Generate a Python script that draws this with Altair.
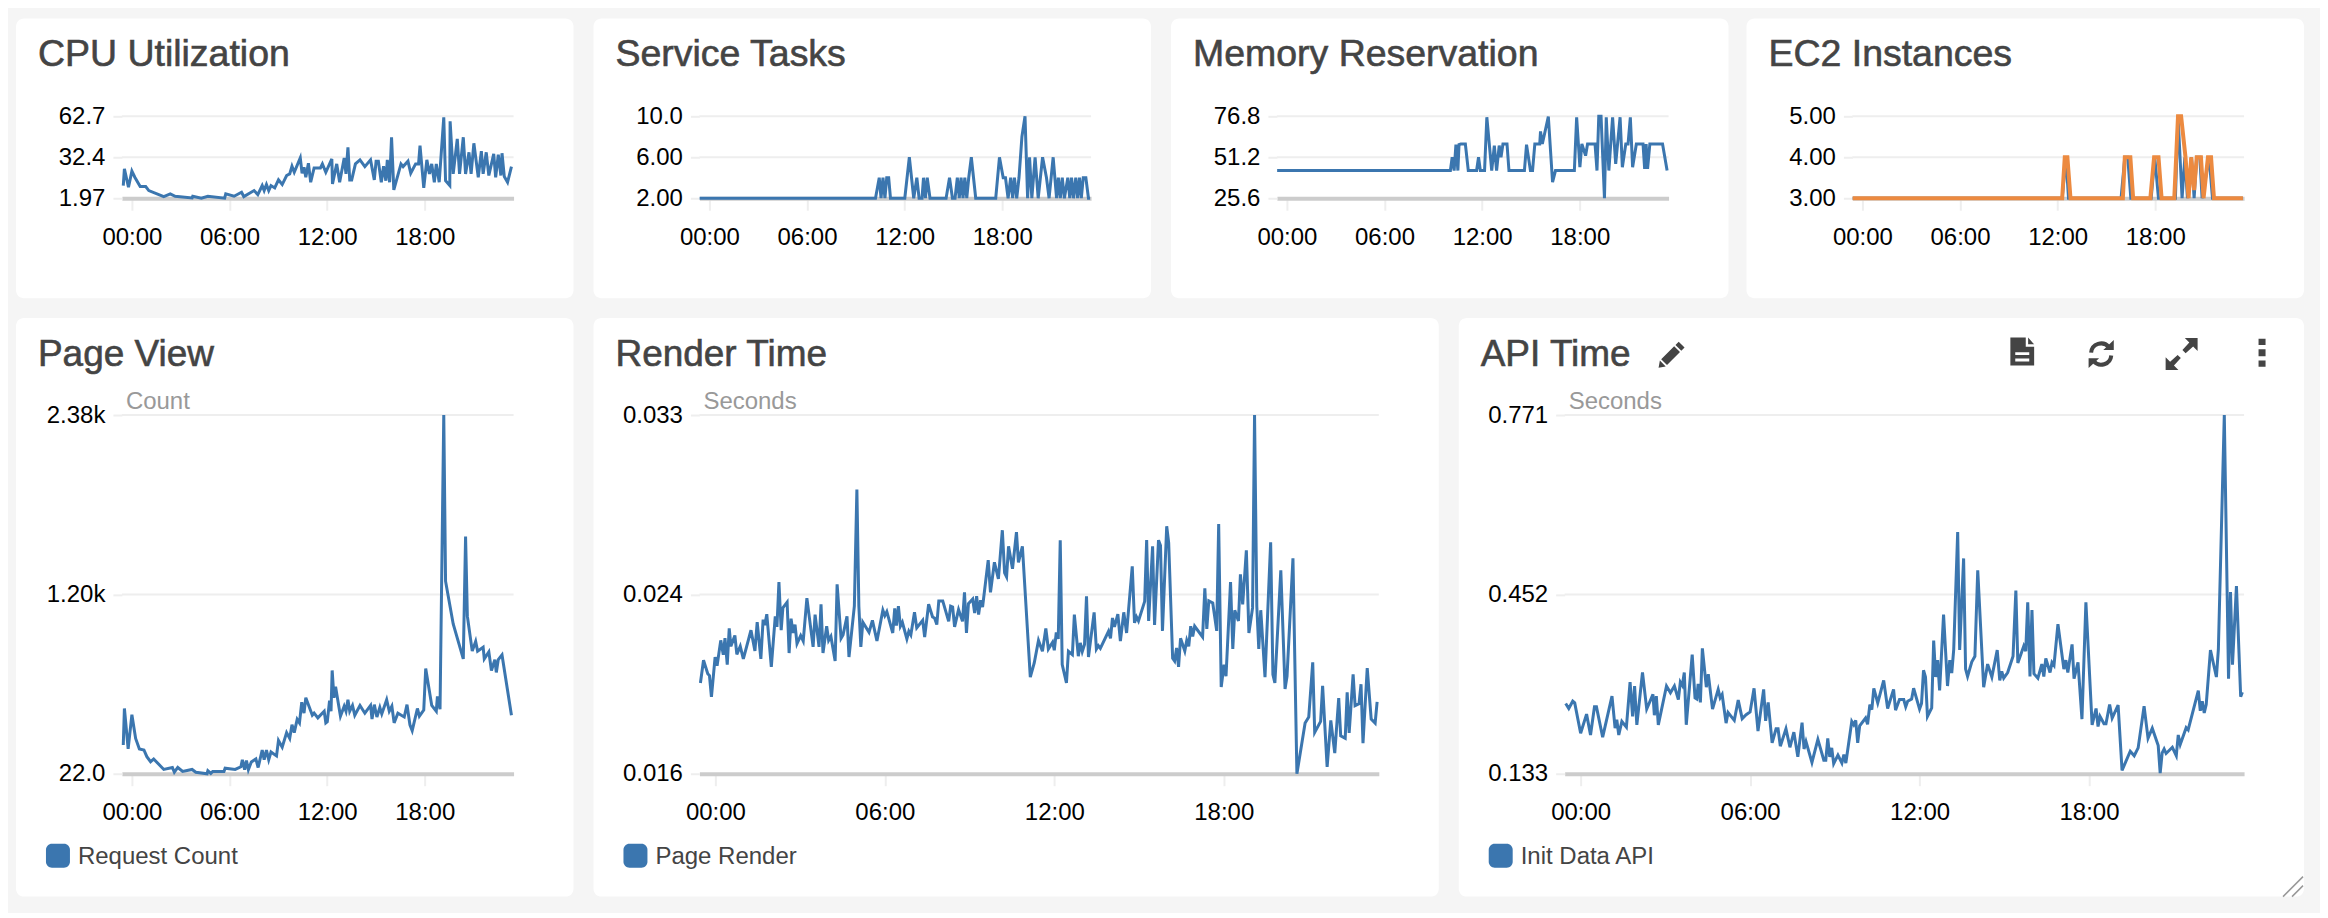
import altair as alt
import pandas as pd

BLUE = "#3b76af"
ORANGE = "#ec8a40"
FONT = "Liberation Sans"

# (hour of day, value) readings for every series
cpu = [(-.53,11.35),(-.46,23.7),(-.21,10.1),(0,22),(.18,17.5),(.51,10.6),(.85,10.6),(1.04,7.65),(1.96,3.2),(2.36,5.2),(2.66,3.45),(3.7,2.2),(3.74,3.45),(4.27,1.97),(4.67,3.45),(5.7,2.0),(5.77,5.2),(6.28,3.45),(6.74,6.4),(6.88,3.2),(7.51,7.65),(7.74,4.7),(8.01,11.35),(8.13,7.65),(8.27,12.1),(8.41,7.65),(8.55,11.35),(8.78,9.6),(9.01,15.55),(9.24,12.1),(9.51,18.8),(9.7,20),(9.84,25.7),(9.98,21.2),(10.35,31.85),(10.46,20.5),(10.58,25),(10.69,17.5),(10.85,27.9),(10.99,13.8),(11.2,24.4),(11.59,24.4),(11.71,27.4),(11.92,21.2),(12.29,31.1),(12.33,12.6),(12.59,27.4),(12.77,13.8),(13.05,31.85),(13.16,20),(13.28,39.75),(13.39,15.55),(13.51,15.55),(13.74,27.4),(14.02,30.4),(14.32,25.4),(14.67,30.4),(14.9,15.55),(15.01,29.4),(15.15,29.4),(15.33,13.8),(15.47,25.7),(15.61,15),(15.7,30.4),(15.84,13.8),(15.96,47.15),(16.1,8.15),(16.54,27.4),(16.67,25.4),(16.97,29.4),(17.14,20.5),(17.44,27.4),(17.62,27.4),(17.71,41),(17.94,9.6),(18.13,30.4),(18.29,20),(18.43,27.4),(18.59,13.8),(18.71,27.4),(18.89,13.8),(19.17,62),(19.28,15),(19.54,11.35),(19.56,59),(19.75,20),(20.0,45.9),(20.14,20),(20.37,47.15),(20.51,20),(20.72,36),(20.85,20),(21.02,42.7),(21.29,17.5),(21.48,36.8),(21.59,20),(21.78,36),(21.94,18.8),(22.24,34.8),(22.36,17.5),(22.52,34.3),(22.68,18.8),(22.75,35.3),(22.89,18),(23.09,13.8),(23.33,25.4)]

tasks = [(-.6,2),(10.21,2),(10.44,4),(10.55,2),(10.67,4),(10.79,2),(10.9,4),(11.02,4),(11.13,2),(12.01,2),(12.29,6),(12.56,2),(12.75,4),(12.89,2),(13.07,2),(13.16,4),(13.28,2),(13.39,4),(13.56,2),(14.55,2),(14.76,4),(14.94,2),(15.1,2),(15.24,4),(15.36,2),(15.47,4),(15.59,2),(15.7,4),(15.82,2),(15.94,4),(16.1,6),(16.37,2),(17.6,2),(17.83,6),(18.06,4),(18.2,4),(18.36,2),(18.52,4),(18.64,2),(18.75,4),(18.89,2),(19.03,4),(19.21,8),(19.4,10),(19.56,2),(19.68,6),(19.82,2),(20.02,6),(20.21,2),(20.48,6),(20.72,4),(20.88,2),(21.13,6),(21.34,2),(21.45,4),(21.57,2),(21.69,4),(21.82,2),(22.03,4),(22.15,2),(22.26,4),(22.38,2),(22.52,4),(22.63,2),(22.75,4),(22.86,2),(22.98,4),(23.14,4),(23.3,2),(23.4,2)]

memory = [(-.6,42.9),(10.05,42.9),(10.16,51.2),(10.28,42.9),(10.39,59.1),(10.51,42.9),(10.58,59.1),(10.69,59.5),(10.97,59.5),(11.15,42.9),(11.66,42.9),(11.78,51.2),(11.89,42.9),(12.15,42.9),(12.29,76.2),(12.59,42.9),(12.75,58.5),(12.89,42.9),(13.05,58.5),(13.16,51.2),(13.28,59.5),(13.53,59.5),(13.65,42.9),(14.6,42.9),(14.73,59.1),(14.97,42.9),(15.1,42.9),(15.24,59.5),(15.54,59.5),(15.59,67.4),(15.7,59.5),(16.07,76.6),(16.33,35.6),(16.51,42.9),(17.67,42.9),(17.81,76.2),(18.01,45),(18.13,59.5),(18.36,52.2),(18.48,59.5),(18.94,59.5),(19.06,42.9),(19.17,76.8),(19.31,76.8),(19.52,25.6),(19.63,76.2),(19.79,42.9),(20.02,76.2),(20.21,47),(20.48,76.2),(20.62,45),(20.83,59.5),(20.97,59.5),(21.11,76.2),(21.25,45),(21.48,59.5),(21.89,59.5),(21.99,43.9),(22.08,59.5),(22.17,43.9),(22.31,59.5),(23.09,59.5),(23.37,42.9)]

ec2_desired = [(-.6,3),(12.28,3),(12.51,4),(12.67,3),(15.9,3),(16.13,4),(16.31,4),(16.5,3),(17.75,3),(17.97,4),(18.2,3),(19.24,3),(19.4,5),(19.65,3),(19.82,4),(19.98,3),(20.23,4),(20.39,3),(20.55,4),(20.74,4),(20.88,3),(21.31,4),(21.52,3),(23.39,3)]
ec2_running = [(-.6,3),(12.28,3),(12.44,4),(12.6,4),(12.79,3),(16.01,3),(16.13,4),(16.47,4),(16.64,3),(17.7,3),(17.93,4),(18.2,4),(18.39,3),(19.17,3),(19.4,5),(19.59,5),(19.86,4),(20.05,3),(20.21,4),(20.39,3.2),(20.55,4),(20.81,4),(20.97,3),(21.24,4),(21.43,4),(21.61,3),(23.39,3)]

page_view = [(-.53,211),(-.46,451),(-.23,185),(0,410),(.23,254),(.46,185),(.74,178),(.92,134),(1.15,101),(1.34,119),(1.96,50),(2.49,63),(2.61,32),(2.82,63),(3.12,37),(3.7,50),(3.93,32),(4.62,22),(4.67,42),(4.85,24),(4.97,37),(5.66,37),(5.73,58),(6.35,50),(6.7,68),(6.79,114),(6.93,48),(7.04,109),(7.16,48),(7.34,99),(7.62,119),(7.76,63),(8.01,178),(8.13,114),(8.27,178),(8.41,114),(8.55,165),(8.89,139),(9.01,241),(9.24,196),(9.51,292),(9.7,254),(9.84,344),(9.98,292),(10.16,379),(10.3,356),(10.44,492),(10.58,420),(10.69,522),(11.09,407),(11.2,420),(11.43,389),(11.82,433),(11.92,356),(12.01,364),(12.15,502),(12.24,433),(12.31,701),(12.42,522),(12.52,594),(12.82,400),(13.05,466),(13.16,433),(13.28,509),(13.39,433),(13.56,471),(13.7,407),(14.02,471),(14.32,420),(14.67,471),(14.76,382),(14.9,476),(15.06,395),(15.24,458),(15.36,415),(15.66,509),(15.82,433),(15.98,466),(16.12,356),(16.35,420),(16.74,395),(16.91,476),(17.09,344),(17.23,305),(17.55,451),(17.67,400),(17.94,441),(18.06,714),(18.43,471),(18.71,433),(18.78,530),(18.94,446),(19.17,2380),(19.28,1288),(19.75,1007),(20.37,777),(20.51,1581),(20.62,1058),(20.92,828),(21.13,892),(21.25,828),(21.59,854),(21.66,777),(21.94,823),(22.1,701),(22.31,772),(22.4,688),(22.52,772),(22.75,803),(23.33,407)]

render_ms = [(-.53,20.3),(-.42,21.38),(-.27,20.74),(-.21,20.65),(-.14,19.64),(-.01,21.53),(.06,21.12),(.19,22.32),(.28,21.64),(.34,22.43),(.42,21.17),(.49,22.89),(.55,22.04),(.69,22.55),(.76,21.66),(.88,22.04),(.99,21.44),(1.26,22.8),(1.4,21.82),(1.48,23.18),(1.61,21.44),(1.69,23.3),(1.75,23.05),(1.82,23.56),(1.98,21.06),(2.12,23.46),(2.18,22.96),(2.25,25.08),(2.33,22.8),(2.39,23.86),(2.54,24.13),(2.61,21.72),(2.68,23.35),(2.75,22.67),(2.82,23.07),(2.89,22.17),(3.02,22.55),(3.11,22.29),(3.24,24.32),(3.46,22.01),(3.53,23.54),(3.67,22.01),(3.74,24.03),(3.81,21.72),(3.94,22.99),(4.01,22.32),(4.09,22.51),(4.24,21.34),(4.31,24.98),(4.45,22.42),(4.52,22.58),(4.66,23.46),(4.73,21.53),(4.92,23.94),(5.01,29.47),(5.08,23.94),(5.15,22.01),(5.22,23.18),(5.44,22.7),(5.56,23.27),(5.72,22.29),(5.93,23.75),(6.0,23.49),(6.07,23.68),(6.28,22.67),(6.35,23.84),(6.41,23.02),(6.48,23.94),(6.55,22.99),(6.62,23.18),(6.78,22.39),(6.85,22.75),(6.92,22.58),(7.05,23.65),(7.13,22.91),(7.34,23.27),(7.41,22.48),(7.55,24.03),(7.69,23.43),(7.76,23.38),(7.84,23.07),(7.91,24.19),(8.05,24.19),(8.26,23.22),(8.33,23.94),(8.4,23.9),(8.47,22.96),(8.61,23.78),(8.75,23.22),(8.82,24.6),(8.89,22.67),(8.96,24.06),(9.11,24.28),(9.18,23.62),(9.25,24.41),(9.32,23.54),(9.39,24.22),(9.46,23.9),(9.66,26.12),(9.74,24.6),(9.88,26.02),(10.02,25.23),(10.16,27.54),(10.24,25.52),(10.31,25.33),(10.38,26.78),(10.52,25.71),(10.66,27.45),(10.73,26.02),(10.87,26.78),(11.15,20.58),(11.29,21.25),(11.44,22.32),(11.58,21.8),
 (11.7,22.89),(11.79,21.91),(11.94,22.23),(12.0,21.85),(12.07,22.7),(12.14,22.39),(12.21,27.07),(12.28,21.17),(12.43,20.3),(12.5,21.8),(12.64,21.64),(12.71,23.54),(12.85,21.57),(12.92,22.2),(12.99,21.79),(13.07,22.12),(13.14,24.41),(13.21,21.53),(13.41,23.65),(13.49,21.91),(13.56,22.07),(13.63,21.94),(13.92,22.75),(13.99,22.42),(14.06,23.38),(14.13,22.96),(14.25,23.56),(14.34,22.29),(14.46,23.65),(14.56,22.67),(14.76,25.83),(14.84,23.15),(14.91,23.43),(14.98,23.24),(15.2,24.17),(15.27,27.07),(15.34,23.24),(15.48,26.78),(15.55,23.05),(15.69,27.07),(15.76,26.81),(15.83,22.77),(15.98,27.73),(16.05,26.94),(16.19,21.47),(16.26,21.34),(16.33,21.96),(16.4,21.06),(16.47,22.42),(16.62,21.82),(16.69,22.32),(16.76,22.04),(16.83,22.99),(16.9,22.51),(16.97,22.99),(17.25,22.48),(17.33,24.79),(17.4,22.86),(17.47,24.19),(17.61,24.09),(17.75,22.77),(17.82,27.83),(17.91,20.11),(18.01,21.17),(18.08,20.62),(18.24,25.08),(18.32,21.91),(18.39,23.75),(18.52,23.24),(18.59,25.45),(18.67,24.03),(18.8,26.59),(18.89,22.67),(19.02,23.86),(19.09,33.0),(19.17,23.94),(19.24,21.91),(19.31,23.75),(19.46,20.58),(19.66,26.97),(19.74,20.7),(19.81,20.3),(20.02,25.64),(20.17,20.02),(20.24,20.62),(20.45,26.21),(20.59,16.0),(20.88,18.4),(21.01,18.69),(21.15,21.28),(21.22,17.96),(21.43,18.48),(21.5,20.17),(21.66,16.32),(21.79,18.53),(21.93,16.98),(22.07,19.59),(22.14,17.8),(22.3,17.68),(22.37,19.86),(22.44,17.93),(22.58,20.71),(22.65,19.23),(22.79,19.32),(22.86,20.24),(22.93,17.45),(23.08,21.01),(23.22,18.59),(23.36,18.4),(23.43,19.41)]

api = [(-.53,.258),(-.42,.249),(-.28,.262),(-.21,.259),(0,.205),(.21,.239),(.35,.202),(.49,.252),(.56,.252),(.78,.198),(1.11,.271),(1.22,.214),(1.28,.229),(1.35,.202),(1.46,.226),(1.62,.216),(1.75,.296),(1.84,.235),(1.91,.289),(1.99,.220),(2.19,.313),(2.34,.248),(2.56,.274),(2.61,.237),(2.68,.271),(2.75,.220),(3.04,.289),(3.18,.277),(3.32,.289),(3.46,.265),(3.53,.296),(3.6,.290),(3.67,.313),(3.74,.220),(3.95,.345),(4.05,.268),(4.11,.266),(4.16,.293),(4.24,.260),(4.31,.356),(4.45,.287),(4.52,.310),(4.67,.248),(4.87,.283),(4.94,.268),(5.01,.274),(5.15,.223),(5.22,.242),(5.44,.228),(5.58,.264),(5.72,.231),(5.86,.238),(6.0,.243),(6.14,.285),(6.28,.209),(6.48,.283),(6.55,.227),(6.64,.260),(6.78,.188),(6.92,.213),(6.99,.213),(7.07,.182),(7.27,.213),(7.41,.180),(7.55,.207),(7.69,.163),(7.84,.224),(7.91,.177),(7.98,.190),(8.19,.153),(8.4,.194),(8.61,.157),(8.68,.157),(8.75,.196),(8.82,.163),(8.89,.179),(8.96,.151),(9.11,.166),(9.25,.152),(9.32,.167),(9.39,.152),(9.6,.226),(9.67,.220),(9.74,.228),(9.81,.188),(9.88,.218),(10.09,.232),(10.16,.221),(10.24,.256),(10.31,.247),(10.38,.285),(10.52,.259),(10.73,.299),(10.87,.249),(11.08,.283),(11.15,.246),(11.29,.265),(11.44,.265),(11.51,.252),(11.58,.262),
 (11.72,.266),(11.79,.285),(12.0,.248),(12.07,.258),(12.14,.317),(12.21,.305),(12.28,.235),(12.43,.250),(12.5,.370),(12.57,.305),(12.64,.335),(12.71,.281),(12.85,.416),(12.99,.289),(13.07,.335),(13.14,.312),(13.21,.354),(13.35,.563),(13.42,.353),(13.56,.516),(13.63,.319),(13.7,.306),(13.85,.332),(13.96,.342),(14.06,.495),(14.27,.287),(14.41,.328),(14.56,.305),(14.75,.353),(14.84,.299),(14.91,.315),(14.98,.303),(15.12,.313),(15.31,.342),(15.41,.459),(15.48,.330),(15.69,.360),(15.76,.351),(15.83,.438),(15.91,.306),(15.98,.424),(16.05,.311),(16.19,.303),(16.33,.328),(16.4,.306),(16.47,.338),(16.62,.313),(16.69,.331),(16.76,.326),(16.9,.399),(17.11,.319),(17.18,.335),(17.25,.313),(17.4,.363),(17.47,.302),(17.61,.331),(17.75,.230),(17.89,.438),(18.11,.220),(18.25,.249),(18.32,.217),(18.39,.235),(18.53,.222),(18.6,.222),(18.73,.256),(18.82,.232),(19.03,.255),(19.17,.139),(19.46,.173),(19.6,.165),(19.74,.179),(19.95,.253),(20.09,.196),(20.24,.214),(20.45,.183),(20.52,.134),(20.59,.170),(20.66,.177),(20.73,.169),(20.95,.180),(21.09,.165),(21.16,.202),(21.23,.185),(21.44,.215),(21.51,.211),(21.87,.281),(21.94,.245),(22.01,.262),(22.08,.241),(22.15,.256),(22.3,.353),(22.51,.305),(22.58,.354),(22.79,.771),(22.94,.302),(23.01,.456),(23.08,.327),(23.22,.467),(23.37,.270),(23.43,.278)]

x_ticks = [0, 6, 12, 18]
cpu_ticks = [1.97, 32.4, 62.7]
task_ticks = [2, 6, 10]
mem_ticks = [25.6, 51.2, 76.8]
ec2_ticks = [3, 4, 5]
page_ticks = [22, 1200, 2380]
render_ticks = [0.016, 0.02449, 0.033]
api_ticks = [0.133, 0.452, 0.771]

ICON_FILE = "M-.85,-1 L.25,-1 L.25,-.35 L.85,-.35 L.85,1 L-.85,1 Z M-.5,.05 L-.5,.25 L.5,.25 L.5,.05 Z M-.5,.5 L-.5,.7 L.5,.7 L.5,.5 Z M.42,-1 L.85,-.52 L.42,-.52 Z"
ICON_PENCIL = "M.55,-1 L1,-.55 L.75,-.3 L.3,-.75 Z M.2,-.65 L.65,-.2 L-.35,.8 L-.8,.35 Z M-.9,.45 L-.45,.9 L-1,1 Z"
ICON_REFRESH_ARC = "M-.72,-.1 A.72,.72 0 0 1 .55,-.5 M.72,.1 A.72,.72 0 0 1 -.55,.5"
ICON_REFRESH_HEAD = "M.15,-.3 L.9,-.3 L.9,-1 Z M-.15,.3 L-.9,.3 L-.9,1 Z"
ICON_EXPAND = "M.2,-1 L1,-1 L1,-.2 L.72,-.48 L.25,-.05 L.05,-.25 L.48,-.72 Z M-.2,1 L-1,1 L-1,.2 L-.72,.48 L-.25,.05 L-.05,.25 L-.48,.72 Z"
ICON_KEBAB = "M-.25,-1 L.25,-1 L.25,-.55 L-.25,-.55 Z M-.25,-.25 L.25,-.25 L.25,.25 L-.25,.25 Z M-.25,.55 L.25,.55 L.25,1 L-.25,1 Z"
ICON_GRIP = "M-1,1 L1,-1 M-.1,1 L1,-.1"


def label(text, x, y, size, color, stroke=0):
    kw = {"stroke": color, "strokeWidth": stroke} if stroke else {}
    return (
        alt.Chart(pd.DataFrame({"t": [text]}))
        .mark_text(align="left", baseline="middle", font=FONT, fontSize=size, color=color, **kw)
        .encode(text="t:N", x=alt.value(x), y=alt.value(y))
    )


def icon(path, x, y, size=784, filled=True, color="#444444", sw=0):
    return (
        alt.Chart(pd.DataFrame({"k": [0]}))
        .mark_point(shape=path, size=size, filled=filled, color=color, opacity=1, strokeWidth=sw)
        .encode(x=alt.value(x), y=alt.value(y))
    )


def card(title, series, ticks, fmt, w, h, top, bottom, right, hmin, hmax, unit=None, legend=None, extras=(), title_size=37.5):
    left = 106
    xs = alt.Scale(domain=[hmin, hmax], range=[left, right], nice=False, zero=False)
    ys = alt.Scale(domain=[ticks[0], ticks[-1]], range=[bottom, top], nice=False, zero=False)
    xax = alt.Axis(
        values=x_ticks, title=None, grid=False, orient="bottom", offset=bottom - h,
        labelExpr="(datum.value<10?'0':'')+datum.value+':00'",
        labelFont=FONT, labelFontSize=24, labelColor="#000000", labelPadding=15, labelFlush=False,
        labelOverlap=False, tickColor="#eeeeee", tickWidth=2, tickSize=12,
        domainColor="#cccccc", domainWidth=4,
    )
    yax = alt.Axis(
        values=ticks, title=None, grid=False, orient="left", offset=-left, format=fmt,
        labelFont=FONT, labelFontSize=24, labelColor="#000000", labelPadding=8, labelFlush=False,
        labelOverlap=False, tickColor="#eeeeee", tickWidth=2, tickSize=9, domain=False,
    )
    grid = (
        alt.Chart(pd.DataFrame({"v": ticks[1:], "h0": hmin, "h1": hmax}))
        .mark_rule(color="#eeeeee", strokeWidth=2)
        .encode(
            x=alt.X("h0:Q", scale=xs, axis=xax, title=None),
            x2="h1:Q",
            y=alt.Y("v:Q", scale=ys, axis=yax, title=None),
        )
    )
    layers = [grid]
    for pairs, color, sw in series:
        df = pd.DataFrame(pairs, columns=["h", "v"])
        layers.append(
            alt.Chart(df)
            .mark_line(color=color, strokeWidth=sw, interpolate="linear")
            .encode(
                x=alt.X("h:Q", scale=xs, axis=xax, title=None),
                y=alt.Y("v:Q", scale=ys, axis=yax, title=None),
            )
        )
    layers.append(label(title, 22, 36.5, title_size, "#444444", stroke=0.6))
    if unit:
        layers.append(label(unit, 110, 84, 24, "#999999"))
    if legend:
        swatch = (
            alt.Chart(pd.DataFrame({"k": [0]}))
            .mark_rect(color=BLUE, cornerRadius=6)
            .encode(x=alt.value(30), x2=alt.value(54), y=alt.value(526), y2=alt.value(550))
        )
        layers += [swatch, label(legend, 62, 539.5, 24, "#444444")]
    layers.extend(extras)
    return alt.layer(*layers).properties(width=w, height=h)


TOP = dict(w=558, h=280, top=98, bottom=180, right=498, hmin=-0.614, hmax=23.46)
c1 = card("CPU Utilization", [(cpu, BLUE, 3)], cpu_ticks, ".3s", **TOP)
c2 = card("Service Tasks", [(tasks, BLUE, 3)], task_ticks, ".3s", **TOP)
c3 = card("Memory Reservation", [(memory, BLUE, 3)], mem_ticks, ".3s", **TOP)
c4 = card("EC2 Instances", [(ec2_desired, BLUE, 3), (ec2_running, ORANGE, 4)], ec2_ticks, ".3s", **TOP)

c5 = card("Page View", [(page_view, BLUE, 3)], page_ticks, ".3s", 558, 579, 97, 456, 498, -0.614, 23.46,
          unit="Count", legend="Request Count", title_size=37)
render_secs = [(h, v / 1000) for h, v in render_ms]
c6 = card("Render Time", [(render_secs, BLUE, 3)], render_ticks, ".3f", 846, 579, 97, 456, 786, -0.566, 23.49,
          unit="Seconds", legend="Page Render", title_size=37)
api_icons = [
    icon(ICON_PENCIL, 213, 36.6, size=676),
    icon(ICON_FILE, 564, 33.5),
    icon(ICON_REFRESH_ARC, 643, 36, filled=False, sw=4),
    icon(ICON_REFRESH_HEAD, 643, 36),
    icon(ICON_EXPAND, 723.5, 36, size=1024),
    icon(ICON_KEBAB, 804, 34.6),
    icon(ICON_GRIP, 835, 569, size=400, filled=False, color="#999999", sw=1.5),
]
c7 = card("API Time", [(api, BLUE, 3)], api_ticks, ".3f", 846, 579, 97, 456, 786, -0.566, 23.49,
          unit="Seconds", legend="Init Data API", extras=api_icons, title_size=37)

row1 = alt.hconcat(alt.hconcat(c1, c2, c3, spacing=20), c4, spacing=18)
row2 = alt.hconcat(c5, c6, c7, spacing=20)

chart = (
    alt.vconcat(row1, row2, spacing=20)
    .properties(background="#f5f5f5", padding={"left": 8, "top": 10, "right": 14, "bottom": 13})
    .configure_view(fill="#ffffff", stroke="transparent", strokeWidth=0, cornerRadius=8)
)

chart.save("out.html", embed_options={"renderer": "svg", "actions": False})
